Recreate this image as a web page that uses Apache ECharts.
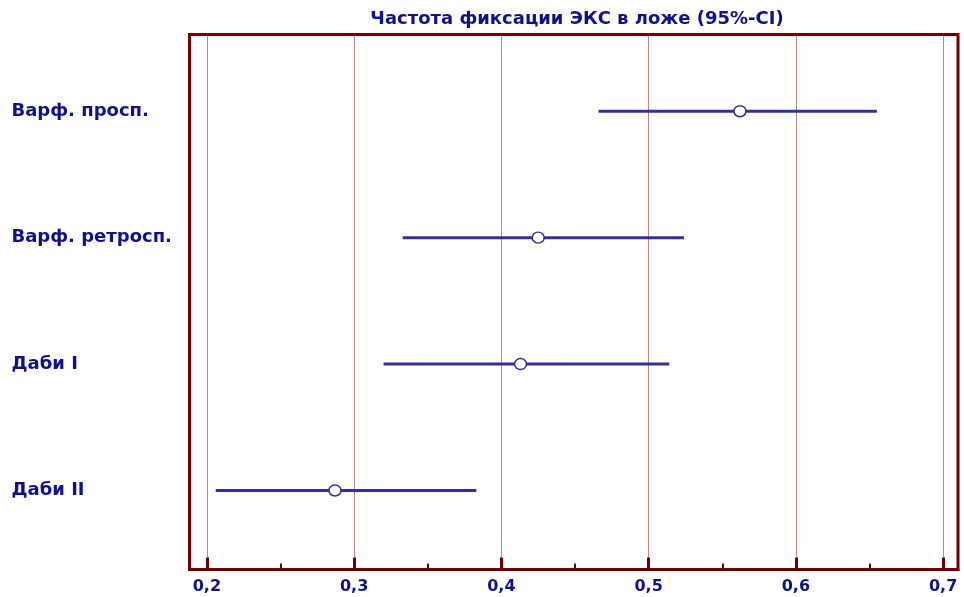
<!DOCTYPE html>
<html>
<head>
<meta charset="utf-8">
<script src="https://cdn.jsdelivr.net/npm/echarts@6/dist/echarts.min.js"></script>
<style>
  html, body { margin: 0; padding: 0; background: #fff; }
  #chart { width: 964px; height: 597px; }
</style>
</head>
<body>
<div id="chart"></div>
<script>
// Study groups, top to bottom
const groups = ['Варф. просп.', 'Варф. ретросп.', 'Даби I', 'Даби II'];
// Point estimates and 95% confidence bounds
const estimate = [0.562, 0.425, 0.413, 0.287];
const lower = [0.466, 0.333, 0.320, 0.206];
const upper = [0.655, 0.524, 0.514, 0.383];
// Axis ticks
const majorTicks = [0.2, 0.3, 0.4, 0.5, 0.6, 0.7];
const minorTicks = [0.25, 0.35, 0.45, 0.55, 0.65];
const rowPos = [4, 3, 2, 1];

const navy = '#10108a';
const lineColor = '#30309a';
const frame = '#6e0000';
const font = '"DejaVu Sans", Verdana, sans-serif';

const intervals = groups.map((g, i) => [lower[i], upper[i], rowPos[i]]);
const points = groups.map((g, i) => [estimate[i], rowPos[i]]);

const chart = echarts.init(document.getElementById('chart'), null, { renderer: 'canvas' });
chart.setOption({
  animation: false,
  backgroundColor: '#ffffff',
  title: {
    text: 'Частота фиксации ЭКС в ложе (95%-CI)',
    left: 572,
    textAlign: 'center',
    top: 5,
    textStyle: { color: navy, fontFamily: font, fontWeight: 'bold', fontSize: 18 }
  },
  grid: {
    left: 189.5, right: 6, top: 34.5, bottom: 27.5,
    show: true, borderColor: frame, borderWidth: 3, backgroundColor: 'transparent'
  },
  xAxis: [{
    type: 'value', min: 0.1882, max: 0.7101,
    axisLine: { show: true, lineStyle: { color: frame, width: 3 } },
    axisTick: { show: true, inside: true, length: 12, customValues: majorTicks,
                lineStyle: { color: frame, width: 3 } },
    axisLabel: { customValues: majorTicks, margin: 9,
                 formatter: v => v.toFixed(1).replace('.', ','),
                 color: navy, fontFamily: font, fontWeight: 'bold', fontSize: 16 },
    splitLine: { show: true, lineStyle: { color: '#880000', type: [1, 1], width: 1 } }
  }, {
    type: 'value', min: 0.1882, max: 0.7101, position: 'bottom',
    axisLine: { show: false },
    axisTick: { show: true, inside: true, length: 6, customValues: minorTicks,
                lineStyle: { color: frame, width: 2 } },
    axisLabel: { show: false, customValues: minorTicks },
    splitLine: { show: false }
  }],
  yAxis: {
    type: 'value', min: 0.375, max: 4.607,
    axisLine: { show: false },
    axisTick: { show: false },
    splitLine: { show: false },
    axisLabel: {
      customValues: rowPos, align: 'left', margin: 178,
      formatter: v => groups[rowPos.indexOf(Math.round(v))] || '',
      color: navy, fontFamily: font, fontWeight: 'bold', fontSize: 18
    }
  },
  series: [{
    type: 'custom',
    data: intervals,
    encode: { x: [0, 1], y: 2 },
    renderItem: (params, api) => {
      const a = api.coord([api.value(0), api.value(2)]);
      const b = api.coord([api.value(1), api.value(2)]);
      return {
        type: 'line',
        shape: { x1: a[0], y1: a[1], x2: b[0], y2: b[1] },
        style: { stroke: lineColor, lineWidth: 3 }
      };
    },
    z: 3
  }, {
    type: 'scatter',
    data: points,
    symbol: 'circle',
    symbolSize: [12, 11],
    itemStyle: { color: '#ffffff', borderColor: lineColor, borderWidth: 1.5, opacity: 1 },
    z: 4
  }]
});
</script>
</body>
</html>
